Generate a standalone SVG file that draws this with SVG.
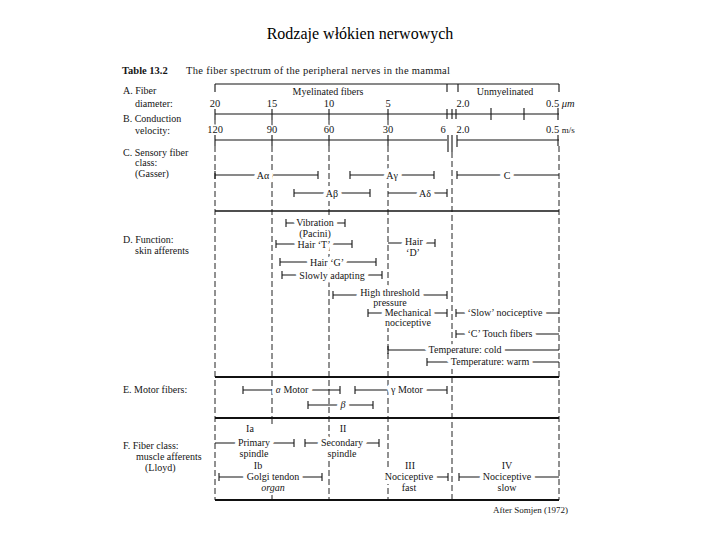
<svg xmlns="http://www.w3.org/2000/svg" width="720" height="540" viewBox="0 0 720 540">
<style>
.ln{stroke:#151515;stroke-width:1.1;fill:none}
.dash{stroke:#222;stroke-width:1;stroke-dasharray:6 3;fill:none}
.thick{stroke:#111;stroke-width:1.8;fill:none}
.t{font-family:"Liberation Serif","Times New Roman",serif;font-size:10px;fill:#151515}
.c{text-anchor:middle;stroke:#fff;stroke-width:8px;paint-order:stroke;stroke-linejoin:round}
.s{stroke-width:3px}
.n{font-size:10.5px}
</style>
<rect width="720" height="540" fill="#fff"/>
<text x="360" y="39" text-anchor="middle" style="font-family:'Liberation Serif','Times New Roman',serif;font-size:16px;fill:#000">Rodzaje włókien nerwowych</text>
<text class="t" x="122" y="74" style="font-size:10.5px"><tspan font-weight="bold">Table 13.2</tspan><tspan x="186" textLength="264">The fiber spectrum of the peripheral nerves in the mammal</tspan></text>

<g id="labels">
<text class="t" x="123" y="94">A. Fiber</text>
<text class="t" x="135" y="107">diameter:</text>
<text class="t" x="123" y="122">B. Conduction</text>
<text class="t" x="135" y="134">velocity:</text>
<text class="t" x="123" y="156">C. Sensory fiber</text>
<text class="t" x="135" y="166">class:</text>
<text class="t" x="135" y="177">(Gasser)</text>
<text class="t" x="123" y="243">D. Function:</text>
<text class="t" x="135" y="254">skin afferents</text>
<text class="t" x="123" y="393">E. Motor fibers:</text>
<text class="t" x="123" y="449">F. Fiber class:</text>
<text class="t" x="136" y="460">muscle afferents</text>
<text class="t" x="145" y="471">(Lloyd)</text>
</g>

<g id="connectors">
<path class="ln" d="M215 84 H559 M215 84 V92 M447 84 V92 M458 84 V92 M559 84 V92"/>
<path class="ln" d="M215 114 H559 M215 109 V120 M272 109 V120 M329 109 V120 M388 109 V120 M447 109 V119 M452 109 V119 M456 109 V119 M491 108 V120 M524 108 V120 M558 108 V120"/>
<path class="dash" d="M215 120 V132 M272 120 V132 M329 120 V132 M388 120 V132"/>
<path class="ln" d="M215 140 H447 M457 140 H559 M215 135 V146 M272 135 V146 M329 135 V146 M388 135 V146 M448 135 V152 M452 135 V152 M457 135 V147 M558 135 V146"/>
<path class="dash" d="M215 146 V500 M272 146 V418 M272 418 V425 M272 493 V500 M329 146 V500 M388 146 V500 M452 152 V500 M559 146 V500"/>
<path class="ln" d="M215 211 H559" style="stroke-width:1.4"/>
<path class="thick" d="M215 377 H559" style="stroke-width:2.2"/>
<path class="thick" d="M215 418 H559"/>
<path class="thick" d="M215 500 H559"/>
</g>

<g id="scale">
<text class="t c" x="328" y="95" style="stroke-width:4px">Myelinated fibers</text>
<text class="t c" x="505" y="95" style="stroke-width:4px">Unmyelinated</text>
<text class="t n c s" x="215" y="107">20</text>
<text class="t n c s" x="272" y="107">15</text>
<text class="t n c s" x="329" y="107">10</text>
<text class="t n c s" x="388" y="107">5</text>
<text class="t n c s" x="463" y="107">2.0</text>
<text class="t n" x="546" y="107">0.5 <tspan font-style="italic">μm</tspan></text>
<text class="t n c s" x="215" y="133">120</text>
<text class="t n c s" x="272" y="133">90</text>
<text class="t n c s" x="329" y="133">60</text>
<text class="t n c s" x="388" y="133">30</text>
<text class="t n c s" x="443" y="133">6</text>
<text class="t n c s" x="463" y="133">2.0</text>
<text class="t n" x="546" y="133">0.5 <tspan style="font-size:9px">m/s</tspan></text>
</g>

<g id="row-c">
<g id="n-aalpha"><path class="ln" d="M215 175 H318 M215 171 V179 M318 171 V179"/><text class="t c" x="263" y="178.5">Aα</text></g>
<g id="n-agamma"><path class="ln" d="M350 175 H434 M350 171 V179 M434 171 V179"/><text class="t c" x="392" y="178.5">Aγ</text></g>
<g id="n-c"><path class="ln" d="M457 175 H559 M457 171 V179"/><text class="t c" x="507" y="178.5">C</text></g>
<g id="n-abeta"><path class="ln" d="M294 193 H370 M294 189 V197 M370 189 V197"/><text class="t c" x="332" y="196.5">Aβ</text></g>
<g id="n-adelta"><path class="ln" d="M388 193 H447 M447 189 V197"/><text class="t c" x="425" y="196.5">Aδ</text></g>
</g>

<g id="row-d">
<g id="n-hairt"><path class="ln" d="M276 244 H352 M276 240 V248 M352 240 V248"/><text class="t c" x="314" y="247.5">Hair ‘T’</text></g>
<g id="n-vibration"><path class="ln" d="M286 223 H345 M286 219 V227 M345 219 V227"/><text class="t c" x="315" y="226">Vibration</text><text class="t c" x="315" y="236.5" style="stroke-width:4px">(Pacini)</text></g>
<g id="n-haird"><path class="ln" d="M388 243 H435 M435 239 V247"/><text class="t c" x="414" y="245">Hair</text><text class="t c" x="413" y="256" style="stroke-width:4px">‘D’</text></g>
<g id="n-hairg"><path class="ln" d="M280 262 H376 M280 258 V266 M376 258 V266"/><text class="t c" x="327" y="265.5">Hair ‘G’</text></g>
<g id="n-slow"><path class="ln" d="M282 275 H382 M282 271 V279 M382 271 V279"/><text class="t c" x="332" y="278.5">Slowly adapting</text></g>
<g id="n-mech"><path class="ln" d="M368 313 H447 M368 309 V317 M447 309 V317"/><text class="t c" x="408" y="316">Mechanical</text><text class="t c" x="408" y="326" style="stroke-width:4px">nociceptive</text></g>
<g id="n-highthr"><path class="ln" d="M333 295 H447 M333 291 V299 M447 291 V299"/><text class="t c" x="390" y="296">High threshold</text><text class="t c" x="390" y="306" style="stroke-width:4px">pressure</text></g>
<g id="n-slownoc"><path class="ln" d="M456 313 H559 M456 309 V317"/><text class="t c" x="505" y="316">‘Slow’ nociceptive</text></g>
<g id="n-ctouch"><path class="ln" d="M456 334 H559 M456 330 V338"/><text class="t c" x="500" y="337">‘C’ Touch fibers</text></g>
<g id="n-cold"><path class="ln" d="M388 350 H559 M388 346 V354"/><text class="t c" x="465" y="353">Temperature: cold</text></g>
<g id="n-warm"><path class="ln" d="M427 362 H559 M427 358 V366"/><text class="t c" x="490" y="365">Temperature: warm</text></g>
</g>

<g id="row-e">
<g id="n-amotor"><path class="ln" d="M243 390 H340 M243 386 V394 M340 386 V394"/><text class="t c" x="292" y="393"><tspan font-style="italic">α</tspan> Motor</text></g>
<g id="n-gmotor"><path class="ln" d="M355 390 H447 M355 386 V394 M447 386 V394"/><text class="t c" x="407" y="393">γ Motor</text></g>
<g id="n-beta"><path class="ln" d="M308 405 H373 M308 401 V409 M373 401 V409"/><text class="t c" x="343" y="408" font-style="italic">β</text></g>
</g>

<g id="row-f">
<g id="n-ia"><path class="ln" d="M215 443 H294 M294 439 V447"/><text class="t c" x="250" y="432" style="stroke-width:4px">Ia</text><text class="t c" x="254" y="446">Primary</text><text class="t c" x="254" y="457" style="stroke-width:4px">spindle</text></g>
<g id="n-ii"><path class="ln" d="M305 443 H379 M305 439 V447 M379 439 V447"/><text class="t c" x="343" y="432" style="stroke-width:4px">II</text><text class="t c" x="342" y="446">Secondary</text><text class="t c" x="342" y="457" style="stroke-width:4px">spindle</text></g>
<g id="n-ib"><path class="ln" d="M219 477 H322 M219 473 V481 M322 473 V481"/><text class="t c" x="258" y="469" style="stroke-width:4px">Ib</text><text class="t c" x="273" y="480">Golgi tendon</text><text class="t c" x="273" y="491" font-style="italic" style="stroke-width:4px">organ</text></g>
<g id="n-iii"><path class="ln" d="M388 477 H448 M448 473 V481"/><text class="t c" x="410" y="469" style="stroke-width:4px">III</text><text class="t c" x="409" y="480">Nociceptive</text><text class="t c" x="409" y="491" style="stroke-width:4px">fast</text></g>
<g id="n-iv"><path class="ln" d="M459 477 H559 M459 473 V481"/><text class="t c" x="507" y="469" style="stroke-width:4px">IV</text><text class="t c" x="507" y="480">Nociceptive</text><text class="t c" x="507" y="491" style="stroke-width:4px">slow</text></g>
</g>

<text class="t" x="568" y="513" text-anchor="end" style="font-size:9px">After Somjen (1972)</text>
</svg>
